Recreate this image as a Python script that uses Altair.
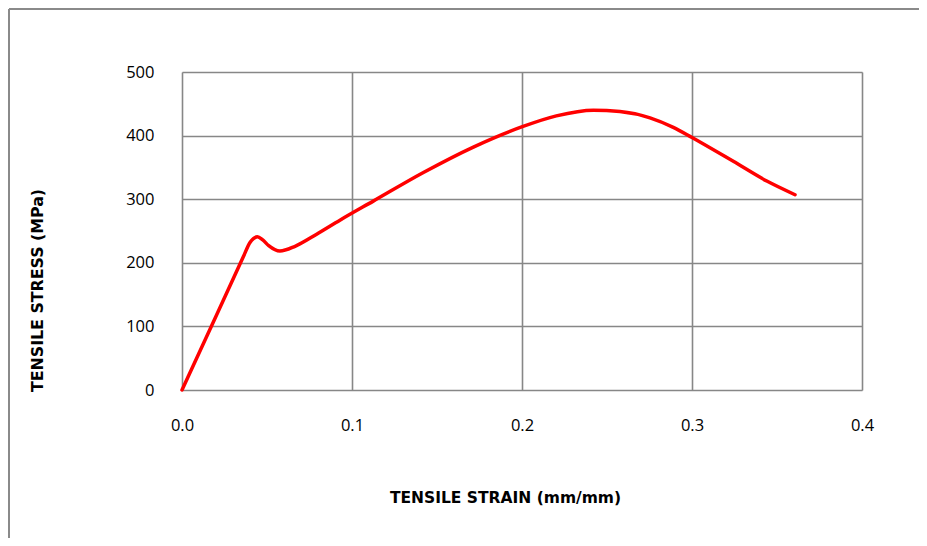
import altair as alt
import pandas as pd

strain = [0.0, 0.02, 0.036, 0.04, 0.042, 0.0443, 0.0475, 0.051, 0.0576, 0.0665,
          0.0792, 0.0929, 0.1125, 0.142, 0.1714, 0.2002, 0.2202, 0.242, 0.2576,
          0.2753, 0.289, 0.3, 0.3243, 0.344, 0.3606]
stress = [0.0, 116.0, 209.0, 232.0, 238.0, 241.0, 236.0, 227.0, 218.5, 226.0,
          245.0, 267.0, 297.0, 342.0, 382.0, 414.0, 431.0, 440.0, 438.0,
          428.0, 413.0, 397.0, 359.5, 328.5, 307.0]
x_ticks = [0.0, 0.1, 0.2, 0.3, 0.4]
y_ticks = [0, 100, 200, 300, 400, 500]

df = pd.DataFrame({"strain": strain, "stress": stress})

GRID = "#878787"
FRAME = "#8a8a8a"
LABEL_FONT = "Open Sans"
TITLE_FONT = "DejaVu Sans"

line = alt.Chart(df).mark_line(
    color="#FF0000", strokeWidth=3.5, interpolate="monotone", strokeCap="round"
).encode(
    x=alt.X(
        "strain:Q",
        scale=alt.Scale(domain=[0, 0.4], nice=False, zero=True),
        axis=alt.Axis(
            values=x_ticks, format=".1f", title="TENSILE STRAIN (mm/mm)",
            grid=True, gridColor=GRID, gridWidth=1.6, domain=False, ticks=False,
            labelFlush=False,
            labelPadding=27, labelFont=LABEL_FONT, labelFontSize=16.5, labelColor="#000000",
            titleFont=TITLE_FONT, titleFontSize=15.5, titleFontWeight="bold", titleColor="#000000",
            titleX=323, titleY=107, titleBaseline="middle", titleAnchor="middle",
        ),
    ),
    y=alt.Y(
        "stress:Q",
        scale=alt.Scale(domain=[0, 500], nice=False),
        axis=alt.Axis(
            values=y_ticks, title="TENSILE  STRESS (MPa)",
            grid=True, gridColor=GRID, gridWidth=1.6, domain=False, ticks=False,
            labelFlush=False,
            labelPadding=28, labelFont=LABEL_FONT, labelFontSize=16.5, labelColor="#000000",
            titleFont=TITLE_FONT, titleFontSize=15.8, titleFontWeight="bold", titleColor="#000000",
            titleX=-145, titleY=218, titleBaseline="middle", titleAngle=-90, titleAnchor="middle",
        ),
    ),
)

anchor = pd.DataFrame({"a": [0]})
frame_left = alt.Chart(anchor).mark_rule(color=FRAME, strokeWidth=2).encode(
    x=alt.value(-173), y=alt.value(-63), y2=alt.value(600)
)
frame_top = alt.Chart(anchor).mark_rule(color=FRAME, strokeWidth=2).encode(
    x=alt.value(-173), x2=alt.value(800), y=alt.value(-63)
)

chart = alt.layer(frame_left, frame_top, line).properties(
    width=680, height=318,
    autosize=alt.AutoSizeParams(type="none"),
    padding={"left": 174, "top": 64, "right": 57, "bottom": 148},
).configure_view(stroke=GRID, strokeWidth=1.6).configure(background="white")

chart.save("out.html", embed_options={"renderer": "svg", "actions": False})
